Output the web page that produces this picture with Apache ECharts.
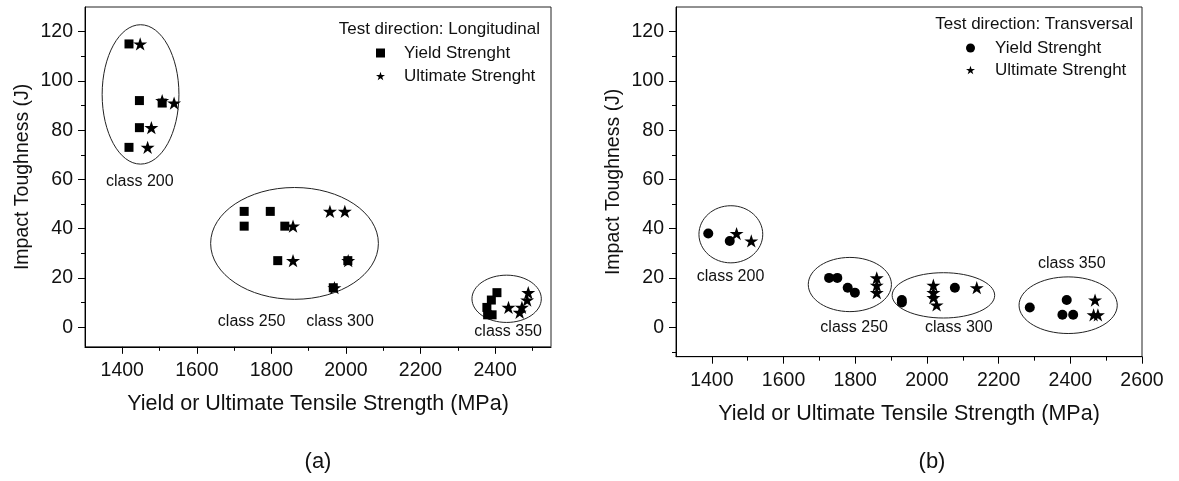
<!DOCTYPE html>
<html>
<head>
<meta charset="utf-8">
<script src="https://cdn.jsdelivr.net/npm/echarts@6/dist/echarts.min.js"></script>
<style>
  html, body { margin: 0; padding: 0; background: #fff; }
  #chart { width: 1179px; height: 481px; }
</style>
</head>
<body>
<div id="chart"></div>
<script>
// ---- (a) longitudinal test direction: [strength MPa, impact toughness J]
const longYield = [
  [1418, 115], [1446, 92], [1507, 91], [1446, 81], [1418, 73],
  [1727, 47], [1797, 47], [1727, 41], [1836, 41], [1817, 27],
  [2005, 27], [1966, 16],
  [2405, 14], [2390, 11], [2378, 8], [2380, 5], [2392, 5]
];
const longUltimate = [
  [1448, 115], [1507, 92], [1539, 91], [1478, 81], [1468, 73],
  [1858, 41], [1858, 27],
  [1957, 47], [1997, 47], [2006, 27], [1969, 16],
  [2436, 8], [2466, 6], [2472, 8], [2486, 11], [2489, 14]
];
// class groupings: [centre x, centre y, radius x, radius y] in data units
const longGroups = [
  [1449, 94.5, 103, 28.3],
  [1862, 34, 225, 22.7],
  [2431, 11.5, 93, 9.6]
];
const longClassNames = ['class 200', 'class 250', 'class 300', 'class 350'];
const longClassPos = [[1447, 59], [1747, 2.4], [1984, 2.4], [2435, -2]];

// ---- (b) transversal test direction
const transYield = [
  [1390, 38], [1450, 35],
  [1727, 20], [1750, 20], [1779, 16], [1799, 14],
  [1930, 11], [1930, 10], [2078, 16],
  [2287, 8], [2390, 11], [2378, 5], [2408, 5]
];
const transUltimate = [
  [1469, 38], [1510, 35],
  [1860, 20], [1860, 17], [1860, 14],
  [2018, 17], [2018, 14], [2018, 12], [2027, 9], [2139, 16],
  [2469, 11], [2465, 5], [2477, 5]
];
const transGroups = [
  [1453, 37.7, 89, 11.6],
  [1785, 17.3, 116, 11],
  [2046, 12.9, 143, 9.2],
  [2394, 8.9, 137, 11.5]
];
const transClassNames = ['class 200', 'class 250', 'class 300', 'class 350'];
const transClassPos = [[1452, 20.4], [1797, 0], [2089, -0.3], [2404, 26]];

// ---- axes
const yMajor = [0, 20, 40, 60, 80, 100, 120];
const yMinorLong = [10, 30, 50, 70, 90, 110];
const yMinorTrans = [-10, 10, 30, 50, 70, 90, 110];
const xMajorLong = [1400, 1600, 1800, 2000, 2200, 2400];
const xMinorLong = [1500, 1700, 1900, 2100, 2300, 2500];
const xMajorTrans = [1400, 1600, 1800, 2000, 2200, 2400, 2600];
const xMinorTrans = [1500, 1700, 1900, 2100, 2300, 2500];
const longRange = { xMin: 1300, xMax: 2550, yMin: -8, yMax: 130 };
const transRange = { xMin: 1300, xMax: 2600, yMin: -12, yMax: 130 };

const FONT = '"Liberation Sans", Arial, Helvetica, sans-serif';
const STAR = 'path://M50,2 L61.8,37.6 L99,37.6 L68.9,59.5 L80.4,95 L50,73 L19.6,95 L31.1,59.5 L1,37.6 L38.2,37.6 Z';
const PX_PER_J = 2.4625;

const chart = echarts.init(document.getElementById('chart'));

function mainAxis(dim, gridIndex, range, major, name, nameGap) {
  const isX = dim === 'x';
  return {
    type: 'value', gridIndex,
    position: isX ? 'bottom' : 'left',
    min: isX ? range.xMin : range.yMin,
    max: isX ? range.xMax : range.yMax,
    name, nameLocation: 'middle', nameGap,
    nameTextStyle: { fontFamily: FONT, fontSize: isX ? 21.5 : 19.5, color: '#111' },
    axisLine: { show: true, onZero: false, lineStyle: { color: '#000', width: 1 } },
    axisTick: { show: true, inside: false, length: 7, customValues: major, lineStyle: { color: '#000' } },
    axisLabel: { show: true, customValues: major, margin: isX ? 14 : 12, fontFamily: FONT, fontSize: 19.5,
                 color: '#111', formatter: v => String(v) },
    splitLine: { show: false }
  };
}
function minorAxis(dim, gridIndex, range, minor) {
  const isX = dim === 'x';
  return {
    type: 'value', gridIndex,
    position: isX ? 'bottom' : 'left',
    min: isX ? range.xMin : range.yMin,
    max: isX ? range.xMax : range.yMax,
    axisLine: { show: false, onZero: false },
    axisTick: { show: true, inside: false, length: 4, customValues: minor, lineStyle: { color: '#000' } },
    axisLabel: { show: false },
    splitLine: { show: false }
  };
}

function ellipseItem(params, api) {
  const c = api.coord([api.value(0), api.value(1)]);
  const s = api.size([api.value(2), api.value(3)]);
  return {
    type: 'ellipse',
    shape: { cx: c[0], cy: c[1], rx: s[0], ry: s[1] },
    style: { fill: null, stroke: '#222', lineWidth: 1 }
  };
}
function classLabel(names) {
  return function (params, api) {
    const c = api.coord([api.value(0), api.value(1)]);
    return {
      type: 'text', x: c[0], y: c[1],
      style: { text: names[params.dataIndex], textAlign: 'center', textVerticalAlign: 'middle',
               font: '16px ' + FONT, fill: '#111' }
    };
  };
}

const markerStyle = { color: '#000', opacity: 1 };

const option = {
  animation: false,
  backgroundColor: '#fff',
  grid: [
    { left: 85, top: 7, width: 466, height: (longRange.yMax - longRange.yMin) * PX_PER_J,
      show: true, borderColor: '#222', borderWidth: 1, backgroundColor: 'transparent' },
    { left: 676, top: 7, width: 466, height: (transRange.yMax - transRange.yMin) * PX_PER_J,
      show: true, borderColor: '#222', borderWidth: 1, backgroundColor: 'transparent' }
  ],
  xAxis: [
    mainAxis('x', 0, longRange, xMajorLong, 'Yield or Ultimate Tensile Strength (MPa)', 46),
    minorAxis('x', 0, longRange, xMinorLong),
    mainAxis('x', 1, transRange, xMajorTrans, 'Yield or Ultimate Tensile Strength (MPa)', 46),
    minorAxis('x', 1, transRange, xMinorTrans)
  ],
  yAxis: [
    mainAxis('y', 0, longRange, yMajor, 'Impact Toughness (J)', 52),
    minorAxis('y', 0, longRange, yMinorLong),
    mainAxis('y', 1, transRange, yMajor, 'Impact Toughness (J)', 52),
    minorAxis('y', 1, transRange, yMinorTrans)
  ],
  legend: [
    { orient: 'vertical', left: 376, top: 43, padding: 0, itemWidth: 9, itemHeight: 9, itemGap: 3,
      textStyle: { fontFamily: FONT, fontSize: 17, color: '#111', lineHeight: 20, padding: [0, 0, 0, 14] },
      data: [{ name: 'Yield Strenght', icon: 'rect' }, { name: 'Ultimate Strenght', icon: STAR }] },
    { orient: 'vertical', left: 966, top: 38, padding: 0, itemWidth: 9, itemHeight: 9, itemGap: 2,
      textStyle: { fontFamily: FONT, fontSize: 17, color: '#111', lineHeight: 20, padding: [0, 0, 0, 15] },
      data: [{ name: 'Yield Strenght', icon: 'circle' }, { name: 'Ultimate Strenght', icon: STAR }] }
  ],
  graphic: [
    { type: 'text', x: 540, y: 29, style: { text: 'Test direction: Longitudinal', textAlign: 'right',
      textVerticalAlign: 'middle', font: '17px ' + FONT, fill: '#111' } },
    { type: 'text', x: 1133, y: 24, style: { text: 'Test direction: Transversal', textAlign: 'right',
      textVerticalAlign: 'middle', font: '17px ' + FONT, fill: '#111' } },
    { type: 'text', x: 318, y: 462, style: { text: '(a)', textAlign: 'center',
      textVerticalAlign: 'middle', font: '22px ' + FONT, fill: '#111' } },
    { type: 'text', x: 932, y: 462, style: { text: '(b)', textAlign: 'center',
      textVerticalAlign: 'middle', font: '22px ' + FONT, fill: '#111' } }
  ],
  series: [
    { type: 'custom', xAxisIndex: 0, yAxisIndex: 0, silent: true, renderItem: ellipseItem,
      encode: { x: 0, y: 1 }, data: longGroups, z: 1 },
    { type: 'custom', xAxisIndex: 2, yAxisIndex: 2, silent: true, renderItem: ellipseItem,
      encode: { x: 0, y: 1 }, data: transGroups, z: 1 },
    { type: 'custom', xAxisIndex: 0, yAxisIndex: 0, silent: true, renderItem: classLabel(longClassNames),
      encode: { x: 0, y: 1 }, data: longClassPos, z: 1 },
    { type: 'custom', xAxisIndex: 2, yAxisIndex: 2, silent: true, renderItem: classLabel(transClassNames),
      encode: { x: 0, y: 1 }, data: transClassPos, z: 1 },
    { name: 'Yield Strenght', type: 'scatter', xAxisIndex: 0, yAxisIndex: 0, symbol: 'rect',
      symbolSize: 9, itemStyle: markerStyle, data: longYield, z: 3 },
    { name: 'Ultimate Strenght', type: 'scatter', xAxisIndex: 0, yAxisIndex: 0, symbol: STAR,
      symbolSize: 14, symbolKeepAspect: true, itemStyle: markerStyle, data: longUltimate, z: 4 },
    { name: 'Yield Strenght', type: 'scatter', xAxisIndex: 2, yAxisIndex: 2, symbol: 'circle',
      symbolSize: 10, itemStyle: markerStyle, data: transYield, z: 3 },
    { name: 'Ultimate Strenght', type: 'scatter', xAxisIndex: 2, yAxisIndex: 2, symbol: STAR,
      symbolSize: 14, symbolKeepAspect: true, itemStyle: markerStyle, data: transUltimate, z: 4 }
  ]
};
chart.setOption(option);
</script>
</body>
</html>
